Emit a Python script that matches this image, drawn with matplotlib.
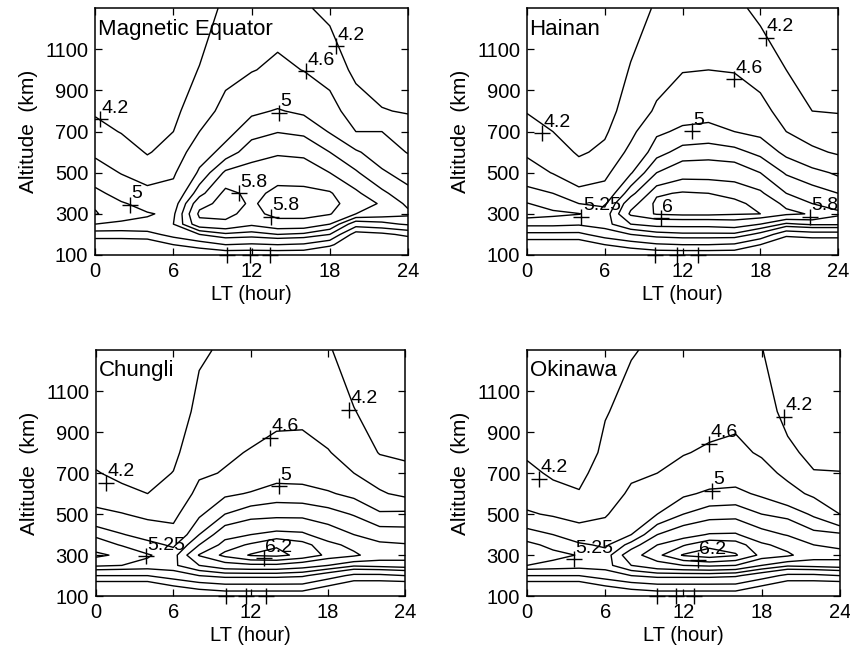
import numpy as np
import matplotlib.pyplot as plt

# grid: local time (hour) and altitude (km)
lt = [0, 2, 4, 6, 8, 10, 12, 14, 16, 18, 20, 22, 24]
alt = [100, 150, 200, 250, 300, 350, 400, 500, 600, 700, 800, 1000, 1300]

levels = [4.2, 4.6, 5.0, 5.25, 5.5, 5.8, 6.0, 6.2]

# log10 density, one altitude profile per LT column
equator = [
    [3.3, 3.9, 4.4, 5.0, 5.27, 5.22, 5.08, 4.8, 4.52, 4.33, 4.15, 3.95, 3.7],
    [3.3, 3.9, 4.4, 4.95, 5.12, 5.03, 4.88, 4.58, 4.4, 4.18, 4.05, 3.85, 3.6],
    [3.3, 3.9, 4.45, 4.95, 5.02, 4.9, 4.72, 4.4, 4.17, 4.05, 3.95, 3.8, 3.55],
    [3.6, 4.2, 4.75, 5.0, 4.95, 4.85, 4.72, 4.55, 4.35, 4.2, 4.1, 3.95, 3.75],
    [3.8, 4.4, 5.0, 5.7, 5.86, 5.7, 5.4, 5.05, 4.85, 4.6, 4.45, 4.22, 3.95],
    [3.9, 4.6, 5.2, 5.75, 5.86, 5.9, 5.88, 5.55, 5.1, 4.9, 4.7, 4.5, 4.3],
    [3.9, 4.55, 5.15, 5.55, 5.72, 5.77, 5.73, 5.6, 5.4, 5.15, 4.95, 4.58, 4.35],
    [3.9, 4.6, 5.25, 5.7, 5.88, 5.9, 5.86, 5.7, 5.46, 5.24, 5.02, 4.68, 4.4],
    [3.9, 4.55, 5.2, 5.7, 5.88, 5.9, 5.86, 5.68, 5.43, 5.2, 4.95, 4.59, 4.25],
    [3.6, 4.3, 5.0, 5.5, 5.82, 5.85, 5.83, 5.5, 5.25, 4.98, 4.75, 4.45, 4.1],
    [3.5, 3.7, 4.0, 4.8, 5.5, 5.72, 5.55, 5.28, 5.05, 4.6, 4.4, 4.1, 3.8],
    [3.5, 3.8, 4.1, 4.9, 5.4, 5.45, 5.3, 5.05, 4.8, 4.6, 4.22, 4.0, 3.75],
    [3.5, 3.8, 4.3, 5.05, 5.3, 5.2, 5.1, 4.85, 4.58, 4.38, 4.17, 3.95, 3.7],
]

hainan = [
    [3.3, 3.9, 4.5, 5.1, 5.35, 5.26, 5.1, 4.8, 4.53, 4.35, 4.18, 3.95, 3.7],
    [3.3, 3.9, 4.5, 5.1, 5.3, 5.15, 5.0, 4.58, 4.4, 4.2, 4.08, 3.85, 3.6],
    [3.3, 3.9, 4.5, 5.05, 5.26, 5.0, 4.7, 4.38, 4.15, 4.05, 3.97, 3.8, 3.55],
    [3.6, 4.2, 4.8, 5.15, 5.1, 4.95, 4.75, 4.5, 4.28, 4.15, 4.05, 3.9, 3.7],
    [3.8, 4.4, 5.0, 5.5, 5.85, 5.7, 5.4, 4.97, 4.7, 4.5, 4.38, 4.23, 4.0],
    [3.9, 4.55, 5.15, 5.6, 6.02, 6.05, 5.97, 5.5, 5.15, 4.95, 4.65, 4.45, 4.25],
    [3.9, 4.6, 5.2, 5.6, 6.05, 6.1, 6.02, 5.7, 5.35, 5.05, 4.88, 4.58, 4.35],
    [3.9, 4.6, 5.2, 5.6, 6.05, 6.08, 6.0, 5.7, 5.38, 5.08, 4.9, 4.6, 4.3],
    [3.9, 4.55, 5.2, 5.65, 6.02, 6.04, 5.95, 5.68, 5.33, 5.0, 4.85, 4.58, 4.3],
    [3.6, 4.2, 4.9, 5.5, 6.0, 5.95, 5.85, 5.5, 5.18, 4.93, 4.72, 4.45, 4.1],
    [3.5, 3.8, 4.3, 5.2, 5.85, 5.75, 5.5, 5.22, 4.93, 4.6, 4.45, 4.2, 3.95],
    [3.5, 3.8, 4.4, 5.3, 5.78, 5.5, 5.35, 5.1, 4.68, 4.42, 4.2, 4.0, 3.75],
    [3.5, 3.8, 4.4, 5.3, 5.55, 5.4, 5.25, 4.95, 4.55, 4.35, 4.18, 3.95, 3.7],
]

chungli = [
    [3.3, 3.9, 4.6, 5.3, 5.55, 5.38, 5.2, 4.7, 4.4, 4.22, 4.1, 3.95, 3.7],
    [3.3, 3.9, 4.6, 5.25, 5.45, 5.23, 5.02, 4.62, 4.28, 4.12, 4.02, 3.88, 3.65],
    [3.3, 3.9, 4.6, 5.2, 5.27, 5.1, 4.87, 4.5, 4.2, 4.08, 3.98, 3.85, 3.6],
    [3.6, 4.2, 4.8, 5.2, 5.15, 4.95, 4.72, 4.5, 4.33, 4.21, 4.12, 3.98, 3.75],
    [3.8, 4.4, 5.0, 5.5, 5.82, 5.5, 5.25, 4.95, 4.7, 4.55, 4.45, 4.3, 4.15],
    [3.9, 4.5, 5.1, 5.7, 6.05, 5.9, 5.7, 5.25, 4.95, 4.62, 4.55, 4.4, 4.25],
    [3.9, 4.5, 5.1, 5.75, 6.22, 6.03, 5.8, 5.4, 5.02, 4.8, 4.62, 4.45, 4.25],
    [3.9, 4.5, 5.1, 5.75, 6.25, 6.18, 5.88, 5.42, 5.12, 4.88, 4.73, 4.48, 4.25],
    [3.9, 4.5, 5.05, 5.65, 6.15, 6.07, 5.85, 5.42, 5.1, 4.88, 4.75, 4.48, 4.22],
    [3.6, 4.2, 4.8, 5.5, 5.95, 5.88, 5.65, 5.35, 5.03, 4.82, 4.62, 4.4, 4.25],
    [3.5, 3.9, 4.5, 5.3, 5.85, 5.72, 5.5, 5.23, 4.93, 4.6, 4.45, 4.22, 3.95],
    [3.5, 3.9, 4.5, 5.35, 5.65, 5.55, 5.38, 5.05, 4.65, 4.4, 4.18, 4.0, 3.75],
    [3.5, 3.9, 4.6, 5.4, 5.6, 5.52, 5.35, 5.08, 4.5, 4.3, 4.13, 3.95, 3.7],
]

okinawa = [
    [3.3, 3.9, 4.6, 5.25, 5.38, 5.3, 5.15, 4.65, 4.4, 4.28, 4.15, 3.97, 3.72],
    [3.3, 3.9, 4.6, 5.2, 5.3, 5.2, 5.0, 4.55, 4.3, 4.15, 4.05, 3.9, 3.65],
    [3.3, 3.9, 4.6, 5.15, 5.24, 5.05, 4.8, 4.45, 4.22, 4.12, 4.02, 3.88, 3.62],
    [3.6, 4.2, 4.8, 5.15, 5.12, 4.95, 4.75, 4.57, 4.45, 4.35, 4.27, 4.18, 4.0],
    [3.8, 4.4, 5.0, 5.5, 5.7, 5.35, 5.0, 4.8, 4.65, 4.55, 4.45, 4.3, 4.18],
    [3.9, 4.5, 5.1, 5.7, 5.95, 5.8, 5.5, 5.0, 4.8, 4.6, 4.52, 4.4, 4.25],
    [3.9, 4.5, 5.1, 5.8, 6.22, 5.98, 5.7, 5.25, 4.95, 4.72, 4.58, 4.42, 4.25],
    [3.9, 4.5, 5.1, 5.85, 6.3, 6.15, 5.82, 5.38, 5.05, 4.82, 4.65, 4.45, 4.25],
    [3.9, 4.5, 5.05, 5.8, 6.22, 6.1, 5.83, 5.4, 5.07, 4.85, 4.7, 4.48, 4.22],
    [3.6, 4.2, 4.8, 5.5, 5.95, 5.85, 5.6, 5.25, 4.95, 4.75, 4.55, 4.38, 4.22],
    [3.5, 3.9, 4.5, 5.3, 5.85, 5.7, 5.48, 5.18, 4.75, 4.5, 4.28, 4.08, 3.85],
    [3.5, 3.9, 4.5, 5.35, 5.62, 5.5, 5.33, 4.95, 4.52, 4.22, 4.1, 3.95, 3.72],
    [3.5, 3.9, 4.6, 5.4, 5.58, 5.45, 5.3, 4.6, 4.4, 4.21, 4.1, 3.95, 3.7],
]

# contour labels: (text, LT, altitude of the + mark)
equator_labels = [("4.2", 0.4, 760), ("4.2", 18.5, 1116), ("4.6", 16.2, 994),
                  ("5", 14.1, 791), ("5", 2.7, 344), ("5.8", 11.0, 401),
                  ("5.8", 13.5, 287)]
hainan_labels = [("4.2", 1.15, 693), ("4.2", 18.4, 1157), ("4.6", 16.0, 954),
                 ("5", 12.7, 702), ("5.25", 4.2, 287), ("6", 10.3, 279),
                 ("5.8", 21.8, 287)]
chungli_labels = [("4.2", 0.8, 653), ("4.2", 19.6, 1010), ("4.6", 13.5, 872),
                  ("5", 14.2, 637), ("5.25", 3.9, 295), ("6.2", 13.0, 285)]
okinawa_labels = [("4.2", 0.9, 672), ("4.2", 19.7, 974), ("4.6", 14.0, 843),
                  ("5", 14.2, 615), ("5.25", 3.6, 280), ("6.2", 13.1, 275)]

# + marks sitting on the bottom axis
equator_bottom = [10.1, 11.9, 13.4]
hainan_bottom = [9.9, 11.6, 13.2]
chungli_bottom = [10.1, 11.6, 13.2]
okinawa_bottom = [10.0, 11.4, 12.8]

names = ["Magnetic Equator", "Hainan", "Chungli", "Okinawa"]
fields = [equator, hainan, chungli, okinawa]
labels = [equator_labels, hainan_labels, chungli_labels, okinawa_labels]
bottoms = [equator_bottom, hainan_bottom, chungli_bottom, okinawa_bottom]

# axes boxes in figure fractions
boxes = [[0.112, 0.6125, 0.368, 0.375],
         [0.620, 0.6125, 0.366, 0.375],
         [0.113, 0.094, 0.364, 0.374],
         [0.620, 0.094, 0.368, 0.374]]

plt.rcParams['font.family'] = ['Liberation Sans', 'DejaVu Sans']

fig = plt.figure(figsize=(8.5, 6.58), dpi=100)

for i in range(4):
    ax = fig.add_axes(boxes[i])
    z = np.array(fields[i]).T
    ax.contour(lt, alt, z, levels=levels, colors='k', linewidths=1.0,
               linestyles='solid')

    for txt, x, y in labels[i]:
        ax.plot(x, y, '+', color='k', ms=12, mew=1.0)
        ax.text(x + 0.1, y + 12, txt, fontsize=14, ha='left', va='bottom')
    for x in bottoms[i]:
        ax.plot(x, 100, '+', color='k', ms=12, mew=1.0, clip_on=False)

    ax.text(0.2, 1250, names[i], fontsize=16, ha='left', va='top')

    ax.set_xlim(0, 24)
    ax.set_ylim(100, 1300)
    ax.set_xticks([0, 6, 12, 18, 24])
    ax.set_yticks([100, 300, 500, 700, 900, 1100])
    ax.tick_params(direction='in', top=True, right=True, labelsize=14.5,
                   length=5, width=0.9, pad=5)
    ax.set_xlabel("LT (hour)", fontsize=14.5, labelpad=3)
    ax.set_ylabel("Altitude  (km)", fontsize=15, labelpad=5)
    for s in ax.spines.values():
        s.set_linewidth(1.1)

plt.savefig("out.png", dpi=100)
